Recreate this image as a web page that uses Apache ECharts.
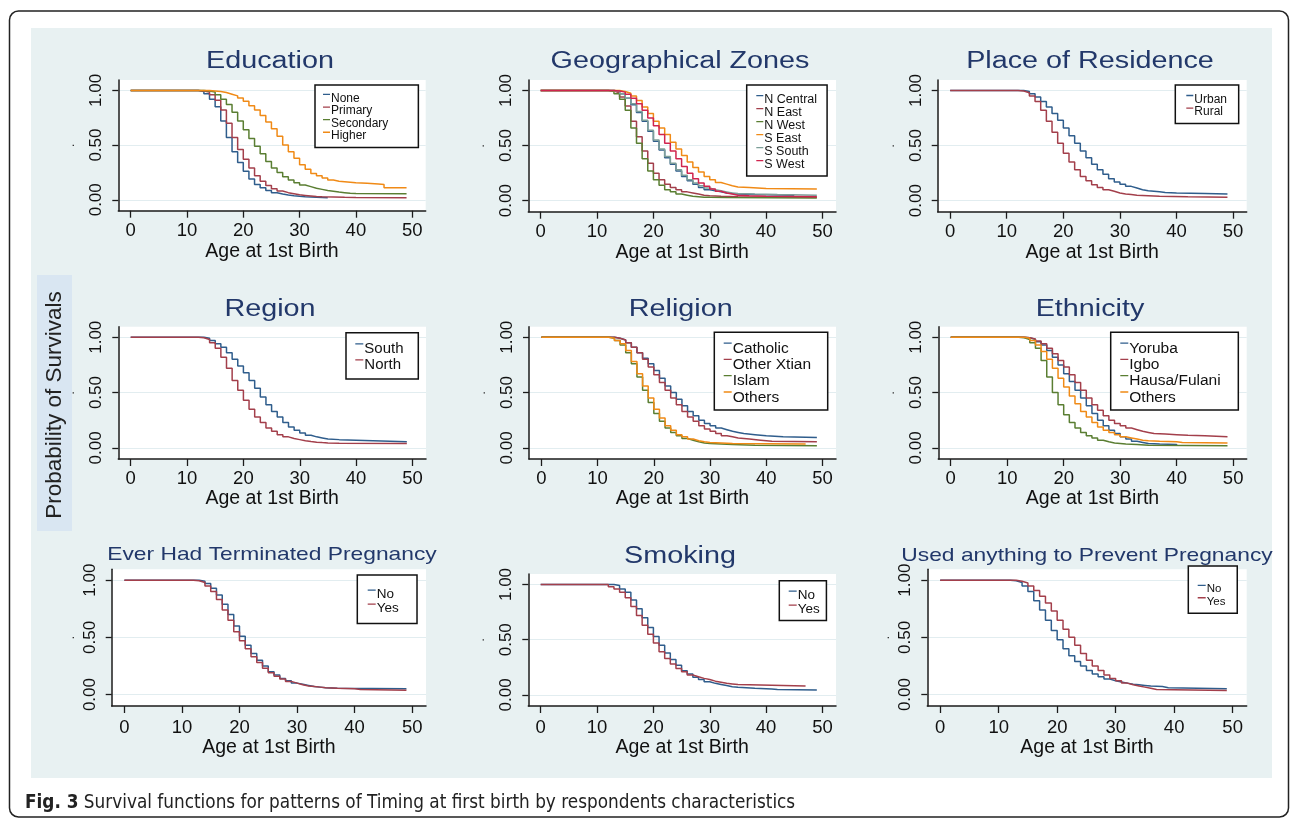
<!DOCTYPE html>
<html><head><meta charset="utf-8">
<script src="https://cdn.jsdelivr.net/npm/echarts@6/dist/echarts.min.js"></script>
<style>html,body{margin:0;padding:0;background:#fff;}#c{width:1290px;height:822px;}</style>
</head><body><div id="c"></div>
<script>
// ---------- tick labels ----------
const ageTicks = [0, 10, 20, 30, 40, 50];
const survTicks = [0, 0.5, 1];

// ---------- Education ----------
const eduNone = [[0,1],[12,0.99],[13,0.97],[14,0.92],[15,0.85],[16,0.72],[17,0.57],[18,0.44],[19,0.34],[20,0.26],[21,0.19],[22,0.14],[23,0.11],[24,0.085],[25,0.065],[26,0.052],[27,0.043],[28,0.037],[29,0.032],[30,0.028],[31,0.025],[32,0.022],[33,0.02],[34,0.018],[35,0.016]];
const eduPrimary = [[0,1],[12,0.995],[13,0.985],[14,0.96],[15,0.91],[16,0.82],[17,0.7],[18,0.57],[19,0.46],[20,0.37],[21,0.29],[22,0.22],[23,0.17],[24,0.13],[25,0.1],[26,0.08],[27,0.065],[28,0.055],[29,0.045],[30,0.04],[31,0.035],[32,0.03],[33,0.028],[34,0.025],[36,0.022],[38,0.02],[40,0.018],[49,0.018]];
const eduSecondary = [[0,1],[13,0.995],[14,0.985],[15,0.96],[16,0.92],[17,0.87],[18,0.8],[19,0.72],[20,0.64],[21,0.56],[22,0.49],[23,0.42],[24,0.35],[25,0.29],[26,0.25],[27,0.21],[28,0.18],[29,0.155],[30,0.135],[31,0.12],[32,0.105],[33,0.095],[34,0.085],[35,0.078],[36,0.07],[37,0.065],[38,0.06],[39,0.057],[40,0.055],[49,0.05]];
const eduHigher = [[0,1],[14,0.995],[15,0.99],[16,0.98],[17,0.965],[18,0.95],[19,0.93],[20,0.9],[21,0.86],[22,0.82],[23,0.77],[24,0.71],[25,0.65],[26,0.58],[27,0.5],[28,0.44],[29,0.38],[30,0.32],[31,0.28],[32,0.24],[33,0.22],[34,0.2],[35,0.18],[36,0.17],[37,0.165],[38,0.16],[39,0.155],[40,0.15],[42,0.145],[44,0.14],[45,0.11],[49,0.105]];

// ---------- Geographical zones ----------
const gzNCentral = [[0,1],[13,0.99],[14,0.97],[15,0.93],[16,0.87],[17,0.8],[18,0.72],[19,0.63],[20,0.54],[21,0.46],[22,0.39],[23,0.33],[24,0.27],[25,0.22],[26,0.18],[27,0.15],[28,0.12],[29,0.1],[30,0.09],[31,0.08],[32,0.07],[33,0.065],[34,0.06],[35,0.055],[38,0.05],[45,0.05]];
const gzNEast = [[0,1],[12,0.995],[13,0.98],[14,0.94],[15,0.86],[16,0.72],[17,0.58],[18,0.45],[19,0.34],[20,0.25],[21,0.19],[22,0.15],[23,0.12],[24,0.1],[25,0.08],[26,0.07],[27,0.06],[28,0.05],[29,0.045],[30,0.04],[32,0.035],[35,0.03],[49,0.03]];
const gzNWest = [[0,1],[12,0.99],[13,0.97],[14,0.92],[15,0.82],[16,0.66],[17,0.52],[18,0.38],[19,0.27],[20,0.19],[21,0.14],[22,0.1],[23,0.08],[24,0.06],[25,0.05],[26,0.04],[27,0.036],[28,0.032],[29,0.03],[30,0.028],[33,0.025],[49,0.025]];
const gzSEast = [[0,1],[14,0.99],[15,0.975],[16,0.95],[17,0.91],[18,0.85],[19,0.79],[20,0.72],[21,0.66],[22,0.6],[23,0.53],[24,0.47],[25,0.41],[26,0.35],[27,0.3],[28,0.26],[29,0.22],[30,0.19],[31,0.165],[32,0.15],[33,0.135],[34,0.125],[35,0.12],[37,0.11],[40,0.105],[49,0.105]];
const gzSSouth = [[0,1],[13,0.99],[14,0.97],[15,0.93],[16,0.88],[17,0.81],[18,0.73],[19,0.64],[20,0.55],[21,0.47],[22,0.4],[23,0.34],[24,0.28],[25,0.23],[26,0.19],[27,0.16],[28,0.135],[29,0.115],[30,0.1],[31,0.09],[32,0.08],[33,0.07],[34,0.065],[35,0.06],[38,0.055],[42,0.05],[49,0.05]];
const gzSWest = [[0,1],[13,0.995],[14,0.985],[15,0.965],[16,0.93],[17,0.88],[18,0.82],[19,0.75],[20,0.68],[21,0.6],[22,0.52],[23,0.45],[24,0.38],[25,0.31],[26,0.25],[27,0.2],[28,0.16],[29,0.13],[30,0.105],[31,0.085],[32,0.07],[33,0.06],[34,0.05],[35,0.045],[37,0.04],[40,0.035],[49,0.03]];

// ---------- Place of residence ----------
const resUrban = [[0,1],[13,0.99],[14,0.97],[15,0.94],[16,0.9],[17,0.85],[18,0.79],[19,0.73],[20,0.66],[21,0.59],[22,0.52],[23,0.45],[24,0.39],[25,0.33],[26,0.28],[27,0.24],[28,0.2],[29,0.17],[30,0.15],[31,0.13],[32,0.115],[33,0.1],[34,0.09],[35,0.085],[36,0.08],[37,0.075],[38,0.07],[40,0.065],[45,0.06],[49,0.06]];
const resRural = [[0,1],[12,0.995],[13,0.98],[14,0.95],[15,0.9],[16,0.82],[17,0.72],[18,0.62],[19,0.52],[20,0.43],[21,0.35],[22,0.28],[23,0.22],[24,0.18],[25,0.145],[26,0.12],[27,0.1],[28,0.085],[29,0.07],[30,0.06],[31,0.055],[32,0.05],[33,0.045],[35,0.04],[37,0.035],[42,0.03],[49,0.03]];

// ---------- Region ----------
const regSouth = [[0,1],[13,0.99],[14,0.97],[15,0.94],[16,0.91],[17,0.86],[18,0.8],[19,0.74],[20,0.68],[21,0.61],[22,0.54],[23,0.46],[24,0.39],[25,0.33],[26,0.28],[27,0.23],[28,0.19],[29,0.16],[30,0.135],[31,0.115],[32,0.1],[33,0.09],[34,0.08],[35,0.075],[37,0.07],[40,0.065],[43,0.055],[49,0.055]];
const regNorth = [[0,1],[12,0.995],[13,0.98],[14,0.95],[15,0.9],[16,0.82],[17,0.72],[18,0.61],[19,0.52],[20,0.43],[21,0.35],[22,0.28],[23,0.23],[24,0.18],[25,0.15],[26,0.12],[27,0.1],[28,0.085],[29,0.075],[30,0.065],[31,0.058],[32,0.052],[33,0.048],[34,0.045],[35,0.042],[37,0.04],[49,0.035]];

// ---------- Religion ----------
const relCatholic = [[0,1],[13,0.99],[14,0.975],[15,0.95],[16,0.91],[17,0.86],[18,0.81],[19,0.76],[20,0.7],[21,0.63],[22,0.56],[23,0.5],[24,0.44],[25,0.38],[26,0.33],[27,0.29],[28,0.25],[29,0.22],[30,0.2],[31,0.18],[32,0.165],[33,0.15],[34,0.14],[35,0.13],[36,0.12],[38,0.11],[40,0.1],[43,0.095],[49,0.095]];
const relOtherXtian = [[0,1],[13,0.99],[14,0.975],[15,0.95],[16,0.91],[17,0.86],[18,0.8],[19,0.73],[20,0.66],[21,0.59],[22,0.52],[23,0.45],[24,0.39],[25,0.33],[26,0.28],[27,0.24],[28,0.2],[29,0.17],[30,0.15],[31,0.13],[32,0.11],[33,0.1],[34,0.09],[35,0.08],[37,0.07],[39,0.06],[41,0.055],[49,0.055]];
const relIslam = [[0,1],[12,0.99],[13,0.97],[14,0.93],[15,0.86],[16,0.76],[17,0.64],[18,0.52],[19,0.41],[20,0.31],[21,0.24],[22,0.18],[23,0.14],[24,0.11],[25,0.085],[26,0.07],[27,0.055],[28,0.045],[29,0.04],[30,0.035],[32,0.03],[34,0.025],[38,0.02],[49,0.02]];
const relOthers = [[0,1],[12,0.99],[13,0.97],[14,0.94],[15,0.88],[16,0.78],[17,0.67],[18,0.56],[19,0.45],[20,0.35],[21,0.27],[22,0.2],[23,0.16],[24,0.12],[25,0.1],[26,0.08],[27,0.065],[28,0.055],[29,0.05],[30,0.045],[32,0.04],[34,0.035],[47,0.035]];

// ---------- Ethnicity ----------
const ethYoruba = [[0,1],[13,0.995],[14,0.98],[15,0.96],[16,0.93],[17,0.88],[18,0.82],[19,0.75],[20,0.67],[21,0.6],[22,0.52],[23,0.45],[24,0.38],[25,0.31],[26,0.25],[27,0.2],[28,0.16],[29,0.13],[30,0.1],[31,0.08],[32,0.06],[33,0.05],[34,0.04],[35,0.035],[37,0.03],[40,0.02]];
const ethIgbo = [[0,1],[13,0.995],[14,0.985],[15,0.965],[16,0.94],[17,0.9],[18,0.85],[19,0.79],[20,0.73],[21,0.66],[22,0.59],[23,0.52],[24,0.45],[25,0.39],[26,0.34],[27,0.29],[28,0.25],[29,0.22],[30,0.2],[31,0.18],[32,0.165],[33,0.15],[34,0.14],[35,0.13],[36,0.125],[38,0.12],[40,0.115],[42,0.11],[45,0.1],[49,0.1]];
const ethHausaFulani = [[0,1],[12,0.995],[13,0.98],[14,0.95],[15,0.9],[16,0.79],[17,0.64],[18,0.5],[19,0.39],[20,0.3],[21,0.23],[22,0.18],[23,0.14],[24,0.11],[25,0.09],[26,0.07],[27,0.055],[28,0.045],[29,0.04],[30,0.035],[31,0.03],[33,0.025],[35,0.02],[49,0.02]];
const ethOthers = [[0,1],[13,0.99],[14,0.97],[15,0.93],[16,0.87],[17,0.8],[18,0.72],[19,0.63],[20,0.55],[21,0.47],[22,0.4],[23,0.33],[24,0.28],[25,0.23],[26,0.19],[27,0.16],[28,0.14],[29,0.12],[30,0.1],[31,0.09],[32,0.08],[33,0.07],[34,0.065],[35,0.06],[37,0.055],[40,0.05],[41,0.045],[49,0.045]];

// ---------- Ever had terminated pregnancy ----------
const termNo = [[0,1],[13,0.99],[14,0.97],[15,0.93],[16,0.87],[17,0.79],[18,0.7],[19,0.6],[20,0.51],[21,0.43],[22,0.36],[23,0.3],[24,0.25],[25,0.2],[26,0.17],[27,0.14],[28,0.12],[29,0.1],[30,0.09],[31,0.08],[32,0.07],[33,0.065],[34,0.06],[35,0.055],[37,0.05],[49,0.048]];
const termYes = [[0,1],[12,0.995],[13,0.98],[14,0.95],[15,0.9],[16,0.83],[17,0.74],[18,0.65],[19,0.55],[20,0.47],[21,0.4],[22,0.33],[23,0.28],[24,0.23],[25,0.19],[26,0.16],[27,0.135],[28,0.115],[29,0.1],[30,0.085],[31,0.075],[32,0.07],[33,0.065],[34,0.06],[35,0.055],[37,0.05],[40,0.045],[41,0.038],[49,0.038]];

// ---------- Smoking ----------
const smkNo = [[0,1],[13,0.99],[14,0.96],[15,0.93],[16,0.86],[17,0.78],[18,0.7],[19,0.61],[20,0.53],[21,0.45],[22,0.38],[23,0.32],[24,0.27],[25,0.22],[26,0.19],[27,0.16],[28,0.14],[29,0.12],[30,0.105],[31,0.095],[32,0.085],[33,0.075],[34,0.07],[35,0.06],[38,0.055],[41,0.05],[42,0.045],[49,0.045]];
const smkYes = [[0,1],[12,0.98],[13,0.96],[14,0.93],[15,0.88],[16,0.8],[17,0.72],[18,0.63],[19,0.55],[20,0.47],[21,0.39],[22,0.33],[23,0.28],[24,0.24],[25,0.21],[26,0.18],[27,0.165],[28,0.15],[29,0.14],[30,0.125],[31,0.115],[32,0.105],[33,0.1],[34,0.095],[35,0.08],[47,0.08]];

// ---------- Used anything to prevent pregnancy ----------
const prevNo = [[0,1],[12,0.995],[13,0.98],[14,0.95],[15,0.9],[16,0.82],[17,0.74],[18,0.65],[19,0.56],[20,0.48],[21,0.4],[22,0.34],[23,0.29],[24,0.25],[25,0.21],[26,0.18],[27,0.155],[28,0.135],[29,0.12],[30,0.11],[31,0.1],[32,0.09],[33,0.085],[34,0.08],[35,0.075],[36,0.07],[38,0.06],[39,0.05],[49,0.05]];
const prevYes = [[0,1],[13,0.99],[14,0.975],[15,0.95],[16,0.91],[17,0.86],[18,0.8],[19,0.73],[20,0.65],[21,0.57],[22,0.5],[23,0.43],[24,0.36],[25,0.3],[26,0.25],[27,0.21],[28,0.17],[29,0.14],[30,0.12],[31,0.1],[32,0.085],[33,0.075],[34,0.065],[35,0.055],[36,0.045],[37,0.035],[49,0.035]];

// ---------- styling ----------
const COL = {navy:'#2f5d8c', maroon:'#a33f4b', green:'#5a7e32', orange:'#f08a16', teal:'#7c9e98', cranberry:'#d0244e'};
const SANS = "'Liberation Sans', Arial, sans-serif";
const CAPF = "'Liberation Sans Narrow', 'DejaVu Sans Condensed', sans-serif";
const AXC = '#1b1b1b';

const panels = [
  {title:'Education', tx:270, ty:62, tfs:23, tsx:1.25, grid:[118.3,80,307.4,130.7],
   series:[['None',eduNone,COL.navy],['Primary',eduPrimary,COL.maroon],['Secondary',eduSecondary,COL.green],['Higher',eduHigher,COL.orange]],
   lg:{left:315,top:85,fs:12,lh:12.6,pad:[7,30,5,4],iw:7}, lm:11, ng:26.5, dg:41},
  {title:'Geographical Zones', tx:680, ty:62, tfs:23, tsx:1.25, grid:[528.3,80,307.7,131.7],
   series:[['N Central',gzNCentral,COL.navy],['N East',gzNEast,COL.maroon],['N West',gzNWest,COL.green],['S East',gzSEast,COL.orange],['S South',gzSSouth,COL.teal],['S West',gzSWest,COL.cranberry]],
   lg:{left:746.7,top:85,fs:12.5,lh:13,pad:[8,10,5,5.6],iw:7}, lm:11, ng:26.5, dg:41},
  {title:'Place of Residence', tx:1090, ty:62, tfs:23, tsx:1.25, grid:[937.7,80,309,131.7],
   series:[['Urban',resUrban,COL.navy],['Rural',resRural,COL.maroon]],
   lg:{left:1175.3,top:85,fs:12,lh:12.7,pad:[8,11.7,5,7],iw:7}, lm:11, ng:26.5, dg:41},
  {title:'Region', tx:270, ty:310, tfs:23, tsx:1.25, grid:[118.3,326.7,307.7,132.3],
   series:[['South',regSouth,COL.navy],['North',regNorth,COL.maroon]],
   lg:{left:346,top:332.7,fs:15,lh:16,pad:[8,14.8,6.3,5.3],iw:8}, lm:10, ng:26.5, dg:41},
  {title:'Religion', tx:680.7, ty:310, tfs:23, tsx:1.25, grid:[529,326.7,307,132.3],
   series:[['Catholic',relCatholic,COL.navy],['Other Xtian',relOtherXtian,COL.maroon],['Islam',relIslam,COL.green],['Others',relOthers,COL.orange]],
   lg:{left:714.3,top:332.3,fs:15.5,lh:16.3,pad:[8,16.6,4.5,5.4],iw:8}, lm:10, ng:26.5, dg:41},
  {title:'Ethnicity', tx:1090, ty:310, tfs:23, tsx:1.25, grid:[938.3,326.7,308.4,132.3],
   series:[['Yoruba',ethYoruba,COL.navy],['Igbo',ethIgbo,COL.maroon],['Hausa/Fulani',ethHausaFulani,COL.green],['Others',ethOthers,COL.orange]],
   lg:{left:1110.7,top:332.3,fs:15.5,lh:16.3,pad:[8,17.7,4.5,5.6],iw:8}, lm:10, ng:26.5, dg:41},
  {title:'Ever Had Terminated Pregnancy', tx:272, ty:555, tfs:19, tsx:1.2, grid:[111.7,569.3,314.3,136.7],
   series:[['No',termNo,COL.navy],['Yes',termYes,COL.maroon]],
   lg:{left:357.3,top:575,fs:13.5,lh:13.3,pad:[12.4,18.3,8,6.4],iw:8}, lm:12, ng:27, dg:35},
  {title:'Smoking', tx:680, ty:557, tfs:23, tsx:1.25, grid:[528.3,574,307.7,132],
   series:[['No',smkNo,COL.navy],['Yes',smkYes,COL.maroon]],
   lg:{left:779.3,top:580.7,fs:13.5,lh:13.3,pad:[7.7,6.7,4,5.4],iw:8}, lm:12, ng:27, dg:41},
  {title:'Used anything to Prevent Pregnancy', tx:1087, ty:556, tfs:19, tsx:1.2, grid:[927.3,569.3,319.4,136.7],
   series:[['No',prevNo,COL.navy],['Yes',prevYes,COL.maroon]],
   lg:{left:1188.3,top:566,fs:11.5,lh:12.4,pad:[17,11.8,5.5,5.4],iw:8}, lm:12, ng:27, dg:35}
];

const grids = [], xAxes = [], yAxes = [], seriesArr = [], legends = [], graphics = [];

// outer frame and backgrounds
graphics.push({type:'rect', z:-10, shape:{x:9.5,y:11,width:1279,height:806,r:9}, style:{fill:'#fff', stroke:'#222', lineWidth:1.5}});
graphics.push({type:'rect', z:-9, shape:{x:31,y:28,width:1241,height:750}, style:{fill:'#e8f1f2'}});
graphics.push({type:'rect', z:-8, shape:{x:37,y:275,width:35,height:256}, style:{fill:'#d9e6f2'}});
graphics.push({type:'text', x:55, y:405, rotation:Math.PI/2, z:5,
  style:{text:'Probability of Survivals', fontSize:22.5, fontFamily:SANS, fill:'#222', align:'center', verticalAlign:'middle', textAlign:'center', textVerticalAlign:'middle'}});
graphics.push({type:'text', x:25, y:803, z:5,
  style:{text:'{b|Fig. 3} Survival functions for patterns of Timing at first birth by respondents characteristics',
    fontSize:18.8, fontFamily:CAPF, fill:'#222', verticalAlign:'middle', textVerticalAlign:'middle',
    rich:{b:{fontWeight:'bold', fontSize:18.8, fontFamily:CAPF, fill:'#222'}}}});

panels.forEach((p, i) => {
  const [gl, gt, gw, gh] = p.grid;
  grids.push({left:gl, top:gt, width:gw, height:gh, show:true, backgroundColor:'#ffffff', borderWidth:0, containLabel:false});
  xAxes.push({gridIndex:i, type:'value', min:-2.2, max:52.4,
    axisLine:{show:true, onZero:false, lineStyle:{color:AXC, width:1.5}},
    axisTick:{show:true, customValues:ageTicks, length:7, lineStyle:{color:AXC, width:1.3}},
    axisLabel:{customValues:ageTicks, margin:p.lm, fontSize:18.5, color:'#111', fontFamily:SANS},
    splitLine:{show:false},
    name:'Age at 1st Birth', nameLocation:'middle', nameGap:p.ng,
    nameTextStyle:{fontSize:19.5, color:'#111', fontFamily:SANS}});
  yAxes.push({gridIndex:i, type:'value', min:-0.1, max:1.095,
    axisLine:{show:true, onZero:false, lineStyle:{color:AXC, width:1.5}},
    axisTick:{show:true, customValues:survTicks, length:6, lineStyle:{color:AXC, width:1.3}},
    axisLabel:{customValues:survTicks, rotate:90, margin:13, fontSize:17, color:'#111', fontFamily:SANS,
      formatter:(v) => Number(v).toFixed(2)},
    splitLine:{show:true, lineStyle:{color:'#e2edf0', width:1}},
    name:'.', nameLocation:'middle', nameGap:p.dg, nameTextStyle:{fontSize:13, color:'#333', fontFamily:SANS}});
  p.series.forEach(([name, data, color]) => {
    seriesArr.push({type:'line', name, data, xAxisIndex:i, yAxisIndex:i, step:'end',
      symbol:'none', showSymbol:false, color, lineStyle:{color, width:1.5}, silent:true, animation:false, z:3});
  });
  const ih = Math.round(p.lg.fs * 0.75);
  const pad = [p.lg.pad[0], p.lg.pad[1], p.lg.pad[2], p.lg.pad[3] + 4];
  legends.push({orient:'vertical', left:p.lg.left, top:p.lg.top, padding:pad, itemGap:0,
    itemWidth:p.lg.iw, itemHeight:ih, selectedMode:false,
    icon:`path://M0,0H${p.lg.iw}V1.3H0Z M0,${ih}H0.01V${ih+0.01}H0Z`,
    itemStyle:{borderWidth:0},
    data:p.series.map(s => s[0]),
    backgroundColor:'#ffffff', borderColor:'#111', borderWidth:1.5, borderRadius:0,
    textStyle:{fontSize:p.lg.fs, lineHeight:p.lg.lh, color:'#111', fontFamily:SANS, padding:[0,0,0,-4]}});
  graphics.push({type:'text', x:p.tx, y:p.ty, scaleX:p.tsx, z:5,
    style:{text:p.title, fontSize:p.tfs, fontFamily:SANS, fill:'#22386a', align:'center', verticalAlign:'middle', textAlign:'center', textVerticalAlign:'middle'}});
});

const chart = echarts.init(document.getElementById('c'), null, {renderer:'canvas'});
chart.setOption({
  animation:false,
  backgroundColor:'#ffffff',
  graphic:{elements:graphics},
  grid:grids, xAxis:xAxes, yAxis:yAxes, legend:legends, series:seriesArr
});
</script></body></html>
